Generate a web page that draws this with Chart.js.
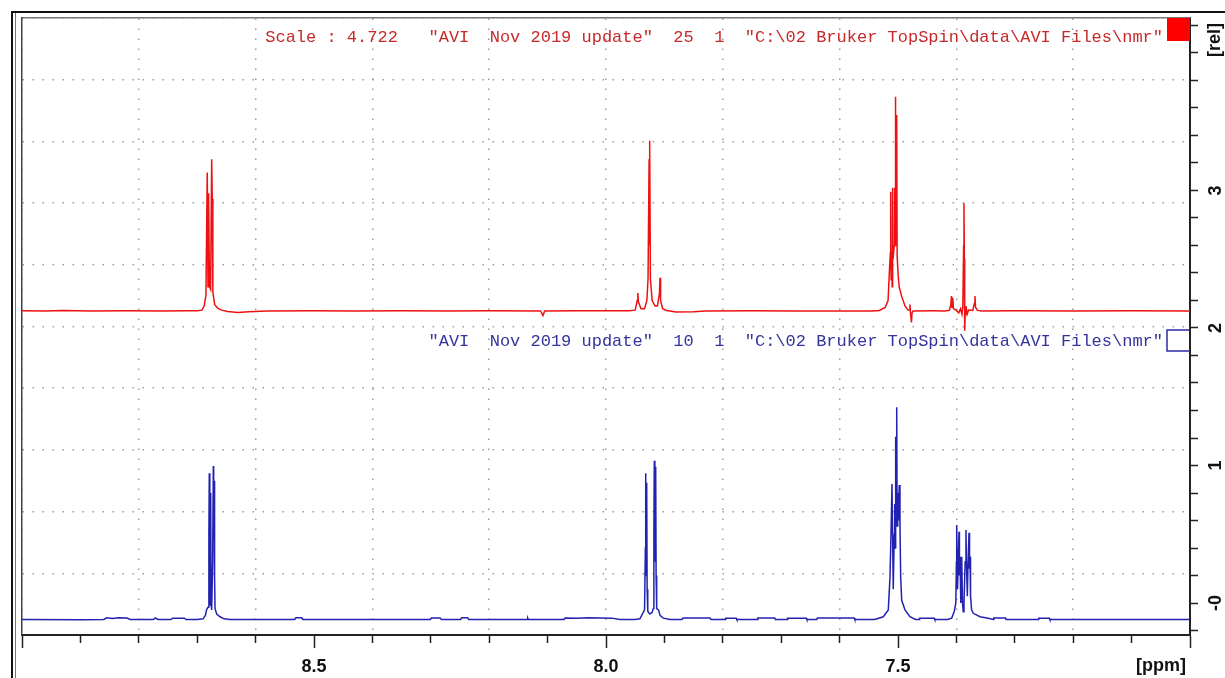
<!DOCTYPE html>
<html>
<head>
<meta charset="utf-8">
<title>1H NMR overlay</title>
<script src="https://cdn.jsdelivr.net/npm/chart.js@4.4.0/dist/chart.umd.min.js"></script>
<style>
    html, body { margin: 0; padding: 0; background: #fff; }
    #wrap { position: relative; width: 1225px; height: 678px; overflow: hidden; }
    .edge { position: absolute; }
    #nmrChart { position: absolute; left: 0; top: 0; }
</style>
</head>
<body>
<div id="wrap">
    <div class="edge" style="left:11px; top:11px; width:1214px; height:667px; border-left:2px solid #111; border-top:2px solid #111;"></div>
    <div class="edge" style="left:15px; top:13px; width:0; height:665px; border-left:1px solid #777;"></div>
    <canvas id="nmrChart" width="1225" height="678"></canvas>
</div>
<script>
// Spectrum 25 (red, scaled x4.722 and shifted up) - ppm / rel
const redPpm = [
    9.000, 8.960, 8.930, 8.880, 8.820, 8.760, 8.720, 8.700, 8.692, 8.688,
    8.685, 8.6828, 8.6815, 8.6805, 8.6790, 8.6770, 8.6752, 8.6742, 8.6732, 8.6700,
    8.6650, 8.6580, 8.6480, 8.6300, 8.6120, 8.5800, 8.5000, 8.4300, 8.3500, 8.2700,
    8.2000, 8.1120, 8.1080, 8.1050, 8.0500, 7.9800, 7.9600, 7.9500, 7.9465, 7.9455,
    7.9445, 7.9400, 7.9340, 7.9300, 7.9280, 7.9262, 7.9256, 7.9248, 7.9240, 7.9210,
    7.9160, 7.9120, 7.9085, 7.9075, 7.9065, 7.9030, 7.8960, 7.8800, 7.8500, 7.8300,
    7.7500, 7.6800, 7.6000, 7.5450, 7.5320, 7.5220, 7.5170, 7.5149, 7.5130, 7.5125,
    7.5118, 7.5108, 7.5100, 7.5092, 7.5085, 7.5065, 7.5057, 7.5051, 7.5046, 7.5038,
    7.5022, 7.5015, 7.5000, 7.4980, 7.4937, 7.4880, 7.4829, 7.4800, 7.4795, 7.4785,
    7.4770, 7.4760, 7.4740, 7.4400, 7.4200, 7.4120, 7.4095, 7.4085, 7.4075, 7.4062,
    7.4050, 7.4000, 7.3960, 7.3930, 7.3905, 7.3890, 7.3876, 7.3870, 7.3864, 7.3858,
    7.3850, 7.3836, 7.3815, 7.3790, 7.3720, 7.3692, 7.3682, 7.3672, 7.3640, 7.3560,
    7.3000, 7.2000, 7.1000, 7.0000
];
const redRel = [
    2.126, 2.123, 2.127, 2.124, 2.126, 2.123, 2.125, 2.125, 2.130, 2.160,
    2.240, 3.130, 2.300, 2.980, 2.300, 2.280, 3.227, 2.940, 2.260, 2.170,
    2.145, 2.130, 2.120, 2.113, 2.118, 2.124, 2.125, 2.123, 2.126, 2.124,
    2.125, 2.124, 2.090, 2.124, 2.125, 2.125, 2.126, 2.130, 2.200, 2.255,
    2.190, 2.140, 2.140, 2.200, 2.360, 3.227, 2.600, 3.362, 2.360, 2.200,
    2.160, 2.160, 2.250, 2.366, 2.200, 2.140, 2.128, 2.117, 2.118, 2.124,
    2.125, 2.123, 2.124, 2.124, 2.128, 2.150, 2.200, 2.400, 2.550, 2.990,
    2.350, 2.560, 2.300, 3.020, 2.500, 2.600, 3.020, 2.600, 3.682, 2.800,
    3.549, 2.530, 2.400, 2.300, 2.230, 2.160, 2.130, 2.130, 2.170, 2.100,
    2.040, 2.110, 2.124, 2.125, 2.124, 2.128, 2.170, 2.233, 2.150, 2.220,
    2.140, 2.128, 2.110, 2.140, 2.100, 2.160, 2.600, 2.907, 2.500, 1.980,
    2.100, 2.160, 2.100, 2.130, 2.128, 2.180, 2.233, 2.150, 2.128, 2.124,
    2.125, 2.124, 2.125, 2.124
];

// Spectrum 10 (blue) - ppm / rel
const bluePpm = [
    9.000, 8.900, 8.860, 8.855, 8.845, 8.835, 8.820, 8.815, 8.775, 8.772,
    8.767, 8.745, 8.742, 8.722, 8.719, 8.700, 8.6900, 8.6860, 8.6840, 8.6815,
    8.6800, 8.6793, 8.6787, 8.6781, 8.6775, 8.6769, 8.6762, 8.6752, 8.6735, 8.6724,
    8.6718, 8.6712, 8.6705, 8.6700, 8.6695, 8.6666, 8.6610, 8.6540, 8.6440, 8.5330,
    8.5310, 8.5210, 8.5190, 8.3010, 8.2990, 8.2840, 8.2820, 8.2490, 8.2470, 8.2370,
    8.2350, 8.1350, 8.1340, 8.1330, 8.0720, 8.0700, 8.0500, 8.0300, 7.9900, 7.9760,
    7.9500, 7.9420, 7.9389, 7.9340, 7.9326, 7.9320, 7.9313, 7.9303, 7.9296, 7.9285,
    7.9250, 7.9212, 7.9190, 7.9180, 7.9173, 7.9166, 7.9161, 7.9149, 7.9142, 7.9132,
    7.9100, 7.9075, 7.9019, 7.8904, 7.8700, 7.8680, 7.8220, 7.8200, 7.7960, 7.7950,
    7.7770, 7.7760, 7.7410, 7.7400, 7.7110, 7.7100, 7.6900, 7.6890, 7.6570, 7.6560,
    7.6390, 7.6380, 7.5750, 7.5740, 7.5400, 7.5252, 7.5166, 7.5137, 7.5120, 7.5103,
    7.5090, 7.5081, 7.5065, 7.5057, 7.5048, 7.5040, 7.5031, 7.5022, 7.5015, 7.5005,
    7.4995, 7.4978, 7.4966, 7.4954, 7.4937, 7.4880, 7.4795, 7.4700, 7.4640, 7.4630,
    7.4380, 7.4370, 7.4150, 7.4080, 7.4036, 7.4010, 7.4000, 7.3995, 7.3988, 7.3981,
    7.3968, 7.3955, 7.3948, 7.3938, 7.3925, 7.3909, 7.3896, 7.3882, 7.3870, 7.3850,
    7.3836, 7.3828, 7.3813, 7.3800, 7.3784, 7.3775, 7.3767, 7.3758, 7.3740, 7.3711,
    7.3596, 7.3454, 7.3370, 7.3360, 7.3160, 7.3150, 7.2600, 7.2590, 7.2410, 7.2400,
    7.0000
];
const blueRel = [
    -0.120, -0.121, -0.120, -0.108, -0.112, -0.107, -0.109, -0.120, -0.120, -0.109,
    -0.120, -0.120, -0.110, -0.110, -0.120, -0.120, -0.115, -0.090, -0.050, -0.030,
    0.500, 0.943, 0.850, -0.020, 0.800, 0.785, 0.000, -0.050, 0.300, 0.996,
    0.500, 0.889, 0.889, 0.200, -0.040, -0.080, -0.100, -0.115, -0.120, -0.120,
    -0.107, -0.107, -0.120, -0.120, -0.109, -0.109, -0.120, -0.120, -0.108, -0.108,
    -0.120, -0.120, -0.110, -0.120, -0.120, -0.109, -0.111, -0.108, -0.110, -0.120,
    -0.120, -0.115, -0.090, -0.050, 0.400, 0.943, 0.200, 0.875, 0.100, -0.060,
    -0.080, -0.070, -0.040, 0.500, 1.035, 0.300, 0.900, 0.991, 0.200, -0.040,
    -0.050, -0.090, -0.110, -0.120, -0.120, -0.109, -0.109, -0.120, -0.120, -0.110,
    -0.110, -0.120, -0.120, -0.109, -0.109, -0.120, -0.120, -0.110, -0.110, -0.120,
    -0.120, -0.109, -0.109, -0.120, -0.120, -0.100, -0.050, 0.190, 0.500, 0.865,
    0.400, 0.100, 0.500, 0.720, 0.400, 1.209, 0.700, 1.423, 0.560, 0.800,
    0.600, 0.858, 0.560, 0.190, 0.020, -0.050, -0.100, -0.120, -0.120, -0.110,
    -0.110, -0.120, -0.120, -0.110, -0.060, 0.000, 0.300, 0.567, 0.350, 0.100,
    0.300, 0.519, 0.200, 0.337, 0.000, 0.337, 0.000, -0.063, 0.000, 0.300,
    0.531, 0.300, 0.050, 0.300, 0.511, 0.250, 0.337, 0.050, -0.050, -0.075,
    -0.100, -0.111, -0.120, -0.109, -0.109, -0.120, -0.120, -0.110, -0.110, -0.120,
    -0.120
];

// Axis labels
const xTickValues = [8.5, 8.0, 7.5];
const xTickLabels = ['8.5', '8.0', '7.5'];
const yTickValues = [0, 1, 2, 3];
const yTickLabels = ['-0', '1', '2', '3'];
const xUnit = '[ppm]';
const yUnit = '[rel]';

// Spectrum headers
const redHeader = 'Scale : 4.722   "AVI  Nov 2019 update"  25  1  "C:\\02 Bruker TopSpin\\data\\AVI Files\\nmr"';
const blueHeader = '"AVI  Nov 2019 update"  10  1  "C:\\02 Bruker TopSpin\\data\\AVI Files\\nmr"';

function labelFor(values, labels, v) {
    const i = values.findIndex(t => Math.abs(t - v) < 1e-6);
    return i < 0 ? '' : labels[i];
}

const axisFont = { family: '"Liberation Sans", Arial, sans-serif', size: 18, weight: 'bold' };
const axisFontCss = 'bold 18px "Liberation Sans", Arial, sans-serif';
const dottedGrid = { color: '#9c9c9c', lineWidth: 1.5, drawTicks: false };

// Headers, colour markers and unit labels drawn on top of the plot
const headerPlugin = {
    id: 'headers',
    afterDraw(chart) {
        const { ctx, chartArea: a } = chart;
        ctx.save();
        ctx.font = '17px "Liberation Mono", "Courier New", monospace';
        ctx.textAlign = 'right';
        ctx.textBaseline = 'middle';
        ctx.fillStyle = '#c62a2a';
        ctx.fillText(redHeader, a.right - 27, a.top + 19);
        ctx.fillStyle = '#34349c';
        ctx.fillText(blueHeader, a.right - 27, a.top + 323);

        ctx.fillStyle = '#ff0000';
        ctx.fillRect(a.right - 23, a.top, 23, 23);

        ctx.strokeStyle = '#2a2aa8';
        ctx.lineWidth = 1.5;
        ctx.beginPath();
        ctx.moveTo(a.right, a.top + 312);
        ctx.lineTo(a.right - 23, a.top + 312);
        ctx.lineTo(a.right - 23, a.top + 333);
        ctx.lineTo(a.right, a.top + 333);
        ctx.stroke();

        // unit labels
        ctx.font = axisFontCss;
        ctx.fillStyle = '#111';
        ctx.textAlign = 'right';
        ctx.fillText(xUnit, a.right - 4, a.bottom + 31);
        ctx.translate(a.right + 25, a.top + 22);
        ctx.rotate(-Math.PI / 2);
        ctx.textAlign = 'center';
        ctx.fillText(yUnit, 0, 0);
        ctx.restore();
    }
};

const nmrCtx = document.getElementById('nmrChart').getContext('2d');
const nmrChart = new Chart(nmrCtx, {
    type: 'line',
    data: {
        datasets: [{
            label: 'Spectrum 25',
            data: redPpm.map((p, i) => ({ x: p, y: redRel[i] })),
            borderColor: '#ee1111',
            borderWidth: 1.5,
            pointRadius: 0,
            tension: 0,
            xAxisID: 'x',
            yAxisID: 'y'
        }, {
            label: 'Spectrum 10',
            data: bluePpm.map((p, i) => ({ x: p, y: blueRel[i] })),
            borderColor: '#2222b0',
            borderWidth: 1.5,
            pointRadius: 0,
            tension: 0,
            xAxisID: 'x',
            yAxisID: 'y'
        }]
    },
    options: {
        responsive: false,
        animation: false,
        devicePixelRatio: 1,
        layout: { padding: { left: 22, top: 18, right: 0, bottom: 0 } },
        plugins: { legend: { display: false }, tooltip: { enabled: false } },
        scales: {
            x: {
                type: 'linear',
                position: 'bottom',
                reverse: true,
                min: 7.0,
                max: 9.0,
                afterFit: s => { s.height = 43; s.paddingLeft = 0; s.paddingRight = 0; },
                ticks: {
                    stepSize: 0.1,
                    includeBounds: false,
                    autoSkip: false,
                    maxRotation: 0,
                    padding: 8,
                    color: '#111',
                    font: axisFont,
                    callback: v => labelFor(xTickValues, xTickLabels, v)
                },
                grid: {
                    drawOnChartArea: false,
                    tickLength: 13,
                    tickColor: '#222',
                    tickWidth: 1.5,
                    // short ticks every 0.1 ppm, full length every 0.5 ppm
                    tickBorderDash: c => {
                        const v = c.tick ? c.tick.value * 2 : 0;
                        return Math.abs(v - Math.round(v)) < 1e-6 ? [] : [7, 40];
                    }
                },
                border: { color: '#222', width: 2 }
            },
            y: {
                type: 'linear',
                position: 'right',
                min: -0.2327,
                max: 4.2545,
                // fixed width, and no extra room for the rotated labels
                afterFit: s => { s.width = 35; s.paddingTop = 0; s.paddingBottom = 0; },
                ticks: {
                    stepSize: 0.2,
                    includeBounds: false,
                    autoSkip: false,
                    minRotation: 90,
                    maxRotation: 90,
                    crossAlign: 'center',
                    padding: 10,
                    color: '#111',
                    font: axisFont,
                    callback: v => labelFor(yTickValues, yTickLabels, v)
                },
                grid: { drawOnChartArea: false, tickLength: 8, tickColor: '#222', tickWidth: 1.5 },
                border: { color: '#222', width: 2 }
            },
            // Bruker style 10 x 10 dotted grid, independent of the axis ticks
            xg: {
                type: 'linear',
                position: 'top',
                min: 0,
                max: 10,
                afterFit: s => { s.height = 0; },
                ticks: { display: false, stepSize: 1 },
                grid: dottedGrid,
                border: { color: '#777', width: 1.5, dash: [1.5, 8.5] }
            },
            yg: {
                type: 'linear',
                position: 'left',
                min: 0,
                max: 10,
                afterFit: s => { s.width = 0; },
                ticks: { display: false, stepSize: 1 },
                grid: dottedGrid,
                border: { color: '#444', width: 1.5, dash: [1.5, 8.5] }
            }
        }
    },
    plugins: [headerPlugin]
});
</script>
</body>
</html>
